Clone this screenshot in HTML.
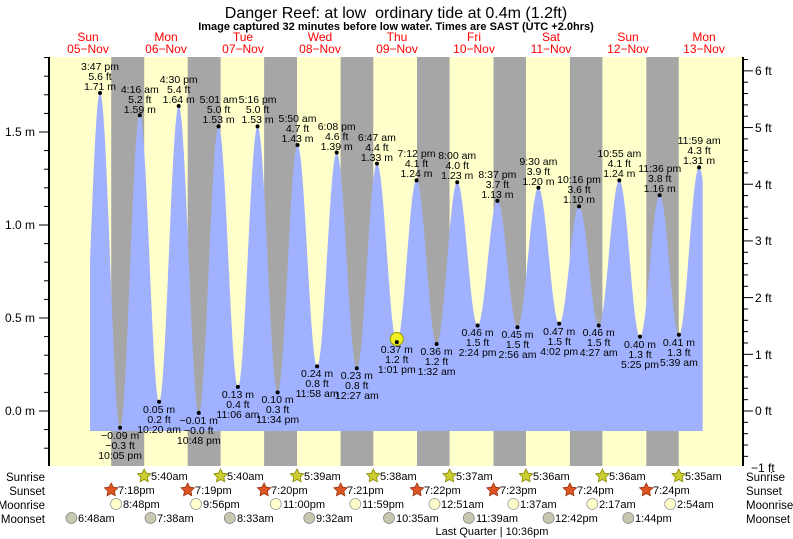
<!DOCTYPE html>
<html><head><meta charset="utf-8"><style>
html,body{margin:0;padding:0;background:#fff;}
svg{display:block;font-family:"Liberation Sans",sans-serif;}
</style></head><body>
<svg id="s" width="793" height="539" viewBox="0 0 793 539" xmlns="http://www.w3.org/2000/svg">
<rect x="49" y="57" width="694" height="409" fill="#ffffcc"/>
<g fill="#a6a6a6">
<rect x="111.2" y="57" width="33" height="409"/>
<rect x="187.7" y="57" width="32.9" height="409"/>
<rect x="264.1" y="57" width="32.9" height="409"/>
<rect x="340.6" y="57" width="32.7" height="409"/>
<rect x="417" y="57" width="32.6" height="409"/>
<rect x="493.5" y="57" width="32.5" height="409"/>
<rect x="569.9" y="57" width="32.5" height="409"/>
<rect x="646.3" y="57" width="32.4" height="409"/>
</g>
<path id="tide" fill="#a0b2ff" d=""/>
<g id="ticks" stroke="#000" stroke-width="1"></g>
<line x1="49" y1="57" x2="49" y2="466" stroke="#000" stroke-width="2"/>
<line x1="743" y1="57" x2="743" y2="466" stroke="#000" stroke-width="2"/>

<text x="396" y="18" font-size="16" text-anchor="middle">Danger Reef: at low &#160;ordinary tide at 0.4m (1.2ft)</text>
<text x="396" y="30" font-size="11" font-weight="bold" text-anchor="middle">Image captured 32 minutes before low water. Times are SAST (UTC +2.0hrs)</text>
<g font-size="12" fill="#ff0000" text-anchor="middle">
<text x="88" y="41">Sun</text><text x="88" y="53">05−Nov</text>
<text x="166" y="41">Mon</text><text x="166" y="53">06−Nov</text>
<text x="243" y="41">Tue</text><text x="243" y="53">07−Nov</text>
<text x="320" y="41">Wed</text><text x="320" y="53">08−Nov</text>
<text x="397" y="41">Thu</text><text x="397" y="53">09−Nov</text>
<text x="474" y="41">Fri</text><text x="474" y="53">10−Nov</text>
<text x="551" y="41">Sat</text><text x="551" y="53">11−Nov</text>
<text x="628" y="41">Sun</text><text x="628" y="53">12−Nov</text>
<text x="704" y="41">Mon</text><text x="704" y="53">13−Nov</text>
</g>
<g font-size="12" text-anchor="end">
<text x="35" y="136">1.5 m</text>
<text x="35" y="229">1.0 m</text>
<text x="35" y="322">0.5 m</text>
<text x="35" y="415">0.0 m</text>
</g>
<g font-size="12">
<text x="755" y="75">6 ft</text>
<text x="755" y="132">5 ft</text>
<text x="755" y="189">4 ft</text>
<text x="755" y="245">3 ft</text>
<text x="755" y="302">2 ft</text>
<text x="755" y="359">1 ft</text>
<text x="755" y="415">0 ft</text>
<text x="751" y="472">−1 ft</text>
</g>

<circle cx="396.8" cy="339" r="6.5" fill="#eeee22" stroke="#999900" stroke-width="1"/>
<g id="dots" fill="#000"></g>
<g font-size="10.5" text-anchor="middle" fill="#000">
<text x="100" y="70">3:47 pm</text><text x="100" y="80">5.6 ft</text><text x="100" y="90">1.71 m</text>
<text x="139.8" y="93">4:16 am</text><text x="139.8" y="103">5.2 ft</text><text x="139.8" y="113">1.59 m</text>
<text x="178.7" y="83">4:30 pm</text><text x="178.7" y="93">5.4 ft</text><text x="178.7" y="103">1.64 m</text>
<text x="218.6" y="103">5:01 am</text><text x="218.6" y="113">5.0 ft</text><text x="218.6" y="123">1.53 m</text>
<text x="257.6" y="103">5:16 pm</text><text x="257.6" y="113">5.0 ft</text><text x="257.6" y="123">1.53 m</text>
<text x="297.5" y="122">5:50 am</text><text x="297.5" y="132">4.7 ft</text><text x="297.5" y="142">1.43 m</text>
<text x="336.7" y="130">6:08 pm</text><text x="336.7" y="140">4.6 ft</text><text x="336.7" y="150">1.39 m</text>
<text x="376.9" y="141">6:47 am</text><text x="376.9" y="151">4.4 ft</text><text x="376.9" y="161">1.33 m</text>
<text x="416.5" y="157">7:12 pm</text><text x="416.5" y="167">4.1 ft</text><text x="416.5" y="177">1.24 m</text>
<text x="457.2" y="159">8:00 am</text><text x="457.2" y="169">4.0 ft</text><text x="457.2" y="179">1.23 m</text>
<text x="497.4" y="178">8:37 pm</text><text x="497.4" y="188">3.7 ft</text><text x="497.4" y="198">1.13 m</text>
<text x="538.4" y="165">9:30 am</text><text x="538.4" y="175">3.9 ft</text><text x="538.4" y="185">1.20 m</text>
<text x="579" y="183">10:16 pm</text><text x="579" y="193">3.6 ft</text><text x="579" y="203">1.10 m</text>
<text x="619.3" y="157">10:55 am</text><text x="619.3" y="167">4.1 ft</text><text x="619.3" y="177">1.24 m</text>
<text x="659.7" y="172">11:36 pm</text><text x="659.7" y="182">3.8 ft</text><text x="659.7" y="192">1.16 m</text>
<text x="699.1" y="144">11:59 am</text><text x="699.1" y="154">4.3 ft</text><text x="699.1" y="164">1.31 m</text>
<text x="120.1" y="439">−0.09 m</text><text x="120.1" y="449">−0.3 ft</text><text x="120.1" y="459">10:05 pm</text>
<text x="159.1" y="413">0.05 m</text><text x="159.1" y="423">0.2 ft</text><text x="159.1" y="433">10:20 am</text>
<text x="198.8" y="424">−0.01 m</text><text x="198.8" y="434">−0.0 ft</text><text x="198.8" y="444">10:48 pm</text>
<text x="237.9" y="398">0.13 m</text><text x="237.9" y="408">0.4 ft</text><text x="237.9" y="418">11:06 am</text>
<text x="277.6" y="403">0.10 m</text><text x="277.6" y="413">0.3 ft</text><text x="277.6" y="423">11:34 pm</text>
<text x="317.1" y="377">0.24 m</text><text x="317.1" y="387">0.8 ft</text><text x="317.1" y="397">11:58 am</text>
<text x="356.8" y="379">0.23 m</text><text x="356.8" y="389">0.8 ft</text><text x="356.8" y="399">12:27 am</text>
<text x="396.8" y="353">0.37 m</text><text x="396.8" y="363">1.2 ft</text><text x="396.8" y="373">1:01 pm</text>
<text x="436.6" y="355">0.36 m</text><text x="436.6" y="365">1.2 ft</text><text x="436.6" y="375">1:32 am</text>
<text x="477.6" y="336">0.46 m</text><text x="477.6" y="346">1.5 ft</text><text x="477.6" y="356">2:24 pm</text>
<text x="517.5" y="338">0.45 m</text><text x="517.5" y="348">1.5 ft</text><text x="517.5" y="358">2:56 am</text>
<text x="559.2" y="335">0.47 m</text><text x="559.2" y="345">1.5 ft</text><text x="559.2" y="355">4:02 pm</text>
<text x="598.7" y="336">0.46 m</text><text x="598.7" y="346">1.5 ft</text><text x="598.7" y="356">4:27 am</text>
<text x="640" y="348">0.40 m</text><text x="640" y="358">1.3 ft</text><text x="640" y="368">5:25 pm</text>
<text x="678.9" y="346">0.41 m</text><text x="678.9" y="356">1.3 ft</text><text x="678.9" y="366">5:39 am</text>
</g>

<g font-size="11.5">
<text x="45" y="481" text-anchor="end">Sunrise</text>
<text x="45" y="495" text-anchor="end">Sunset</text>
<text x="45" y="509" text-anchor="end">Moonrise</text>
<text x="45" y="523" text-anchor="end">Moonset</text>
<text x="746" y="481">Sunrise</text>
<text x="746" y="495">Sunset</text>
<text x="746" y="509">Moonrise</text>
<text x="746" y="523">Moonset</text>
</g>
<g id="icons"></g>
<g font-size="11">
<text x="151" y="480">5:40am</text><text x="227" y="480">5:40am</text><text x="304" y="480">5:39am</text><text x="380" y="480">5:38am</text>
<text x="456" y="480">5:37am</text><text x="533" y="480">5:36am</text><text x="609" y="480">5:36am</text><text x="685" y="480">5:35am</text>
<text x="118" y="494">7:18pm</text><text x="195" y="494">7:19pm</text><text x="271" y="494">7:20pm</text><text x="347" y="494">7:21pm</text>
<text x="424" y="494">7:22pm</text><text x="500" y="494">7:23pm</text><text x="577" y="494">7:24pm</text><text x="653" y="494">7:24pm</text>
<text x="123" y="508">8:48pm</text><text x="203" y="508">9:56pm</text><text x="283" y="508">11:00pm</text><text x="362" y="508">11:59pm</text>
<text x="441" y="508">12:51am</text><text x="520" y="508">1:37am</text><text x="599" y="508">2:17am</text><text x="677" y="508">2:54am</text>
<text x="78" y="522">6:48am</text><text x="157" y="522">7:38am</text><text x="237" y="522">8:33am</text><text x="316" y="522">9:32am</text>
<text x="396" y="522">10:35am</text><text x="476" y="522">11:39am</text><text x="555" y="522">12:42pm</text><text x="635" y="522">1:44pm</text>
<text x="492" y="535" text-anchor="middle">Last Quarter | 10:36pm</text>
</g>
</svg>
<script>
(function(){
var NS="http://www.w3.org/2000/svg";
function X(h){return 49.8+h*3.183;}
function Y(m){return 411-186*m;}
var E=[[9.58,-0.05],[15.78,1.71],[22.08,-0.09],[28.27,1.59],[34.33,0.05],[40.5,1.64],[46.8,-0.01],[53.02,1.53],[59.1,0.13],[65.27,1.53],[71.57,0.10],[77.83,1.43],[83.97,0.24],[90.13,1.39],[96.45,0.23],[102.78,1.33],[109.02,0.37],[115.2,1.24],[121.53,0.36],[128,1.23],[134.4,0.46],[140.62,1.13],[146.93,0.45],[153.5,1.20],[160.03,0.47],[166.27,1.10],[172.45,0.46],[178.92,1.24],[185.42,0.40],[191.6,1.16],[197.65,0.41],[203.98,1.31],[210.2,0.4]];
function val(h){for(var i=0;i<E.length-1;i++){if(h>=E[i][0]&&h<=E[i+1][0]){var t=(h-E[i][0])/(E[i+1][0]-E[i][0]);return E[i][1]+(E[i+1][1]-E[i][1])*(1-Math.cos(Math.PI*t))/2;}}return 0;}
var x0=90,x1=702.7,d="M"+x0+",431";
for(var x=x0;x<=x1;x+=0.5){var h=(x-49.8)/3.183;d+=" L"+x.toFixed(1)+","+Y(val(h)).toFixed(1);}
d+=" L"+x1+","+Y(val((x1-49.8)/3.183)).toFixed(1)+" L"+x1+",431 Z";
document.getElementById("tide").setAttribute("d",d);
var dots=document.getElementById("dots");
for(var i=1;i<E.length-1;i++){var c=document.createElementNS(NS,"circle");c.setAttribute("cx",X(E[i][0]));c.setAttribute("cy",Y(E[i][1]));c.setAttribute("r",2);dots.appendChild(c);}
var tk=document.getElementById("ticks");
function ln(a,b,c,e){var l=document.createElementNS(NS,"line");l.setAttribute("x1",a);l.setAttribute("y1",b);l.setAttribute("x2",c);l.setAttribute("y2",e);tk.appendChild(l);}
for(var v=-2;v<=19;v++){var y=Y(v/10);if(y<57)continue;ln(v%5==0?39:44,y,49,y);}
for(var f=-5;f<=31;f++){var y=411-f*0.2*56.69;if(y<57||y>467)continue;ln(743,y,f%5==0?753:748,y);}
var ic=document.getElementById("icons");
function star(cx,cy,r,fill,stroke){var p="";for(var k=0;k<10;k++){var a=-Math.PI/2+k*Math.PI/5,rr=k%2?r*0.5:r;p+=(cx+rr*Math.cos(a)).toFixed(1)+","+(cy+rr*Math.sin(a)).toFixed(1)+" ";}var s=document.createElementNS(NS,"polygon");s.setAttribute("points",p);s.setAttribute("fill",fill);s.setAttribute("stroke",stroke);s.setAttribute("stroke-width","0.8");ic.appendChild(s);}
function circ(cx,cy,fill,stroke){var c=document.createElementNS(NS,"circle");c.setAttribute("cx",cx);c.setAttribute("cy",cy);c.setAttribute("r",5.5);c.setAttribute("fill",fill);c.setAttribute("stroke",stroke);c.setAttribute("stroke-width","0.8");ic.appendChild(c);}
[144.2,220.6,297,373.3,449.6,526,602.4,678.7].forEach(function(x){star(x,476,7,"#cccc33","#888800");});
[111.2,187.7,264.1,340.6,417,493.5,569.9,646.3].forEach(function(x){star(x,490,7,"#dd5522","#993311");});
[116,196,275.8,355.3,434.5,513.3,592.3,670.2].forEach(function(x){circ(x,504,"#ffffcc","#999999");});
[71.4,150.5,229.8,309.3,389,468.8,548.6,628.3].forEach(function(x){circ(x,518,"#c8c8b0","#888888");});
})();
</script>
</body></html>
